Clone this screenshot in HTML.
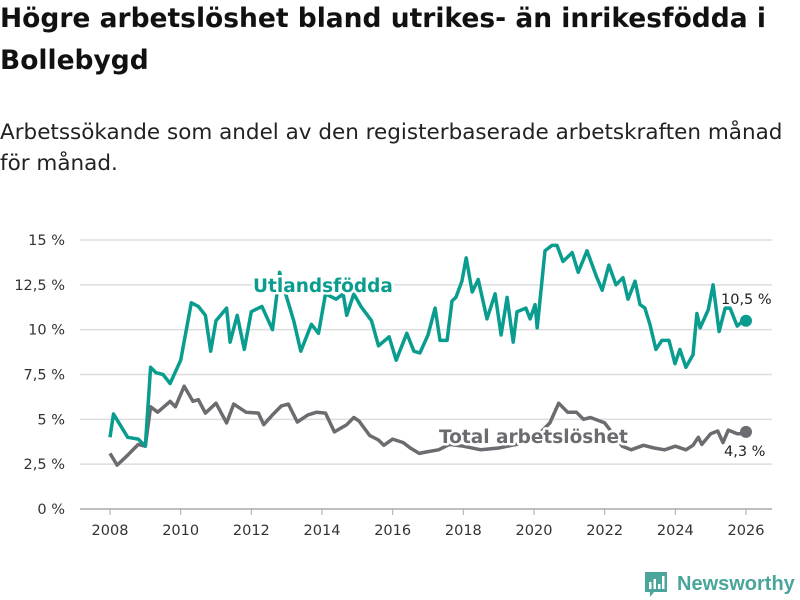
<!DOCTYPE html>
<html><head><meta charset="utf-8">
<style>
body{margin:0;background:#fff;font-family:"DejaVu Sans","Liberation Sans",sans-serif;}
#wrap{position:relative;width:800px;height:600px;overflow:hidden;}
h1{position:absolute;left:0;top:-2px;margin:0;font-size:26.5px;line-height:42px;font-weight:bold;color:#111;width:800px;white-space:nowrap;}
p.sub{position:absolute;left:0;top:117px;margin:0;font-size:21.5px;line-height:31px;color:#222;white-space:nowrap;}
</style></head><body>
<div id="wrap">
<h1>Högre arbetslöshet bland utrikes- än inrikesfödda i<br>Bollebygd</h1>
<p class="sub">Arbetssökande som andel av den registerbaserade arbetskraften månad<br>för månad.</p>
<svg id="chart" width="800" height="600" style="position:absolute;left:0;top:0"></svg>
</div>
<script>
const yTicks=[0,2.5,5,7.5,10,12.5,15];
const yTickLabels=["0 %","2,5 %","5 %","7,5 %","10 %","12,5 %","15 %"];
const xTicks=[2008,2010,2012,2014,2016,2018,2020,2022,2024,2026];
const foreignDates=[2008,2008.1,2008.5,2008.8,2009.0,2009.15,2009.3,2009.5,2009.7,2010.0,2010.3,2010.5,2010.7,2010.85,2011.0,2011.3,2011.4,2011.6,2011.8,2012.0,2012.3,2012.6,2012.8,2013.0,2013.2,2013.4,2013.7,2013.9,2014.1,2014.4,2014.6,2014.7,2014.9,2015.1,2015.4,2015.6,2015.9,2016.1,2016.4,2016.6,
2016.77,2017.0,2017.2,2017.34,2017.54,2017.68,2017.79,2017.96,2018.08,2018.25,2018.42,2018.67,2018.9,2019.07,2019.24,2019.41,2019.52,2019.77,2019.89,2020.03,2020.09,2020.31,2020.51,2020.65,2020.82,2021.08,2021.25,2021.5,2021.76,2021.93,2022.12,2022.32,2022.52,2022.66,2022.86,2023.0,2023.14,2023.28,2023.45,2023.62,2023.82,2023.99,2024.13,2024.3,2024.5,2024.61,2024.7,2024.93,2025.07,2025.24,2025.41,2025.55,2025.75,2025.92,2026.0];
const foreignValues=[4.0,5.3,4.0,3.9,3.5,7.9,7.6,7.5,7.0,8.3,11.5,11.3,10.8,8.8,10.5,11.2,9.3,10.8,8.9,11.0,11.3,10.0,13.2,11.8,10.5,8.8,10.3,9.8,12.0,11.7,12.0,10.8,12.0,11.3,10.5,9.1,9.6,8.3,9.8,8.8,
8.7,9.7,11.2,9.4,9.4,11.6,11.8,12.7,14.0,12.1,12.8,10.6,12.0,9.7,11.8,9.3,11.0,11.2,10.6,11.4,10.1,14.4,14.7,14.7,13.8,14.3,13.2,14.4,13.0,12.2,13.6,12.5,12.9,11.7,12.7,11.4,11.2,10.3,8.9,9.4,9.4,8.1,8.9,7.9,8.6,10.9,10.1,11.1,12.5,9.9,11.2,11.2,10.2,10.5,10.5];
const totalDates=[2008,2008.2,2008.5,2008.8,2009.0,2009.15,2009.35,2009.7,2009.85,2010.1,2010.35,2010.5,2010.7,2011.0,2011.3,2011.5,2011.85,2012.2,2012.35,2012.6,2012.85,2013.05,2013.3,2013.6,2013.85,2014.1,2014.35,2014.7,2014.9,2015.05,2015.35,2015.6,2015.75,2016.0,2016.3,2016.5,2016.75,2017.0,2017.3,2017.6,2018.0,2018.5,2019.0,2019.5,2020.0,2020.45,2020.7,2020.95,2021.2,2021.4,2021.6,2022.0,2022.5,2022.75,2023.1,2023.4,2023.7,2024.0,2024.3,2024.5,2024.65,2024.75,2025.0,2025.2,2025.35,2025.5,2025.75,2025.95,2026.0];
const totalValues=[3.1,2.45,3.0,3.6,3.5,5.7,5.4,6.0,5.7,6.85,6.0,6.1,5.35,5.9,4.8,5.85,5.4,5.35,4.7,5.25,5.75,5.85,4.85,5.25,5.4,5.35,4.3,4.7,5.1,4.9,4.1,3.85,3.55,3.9,3.7,3.4,3.1,3.2,3.3,3.6,3.5,3.3,3.4,3.6,3.9,4.8,5.9,5.4,5.4,5.0,5.1,4.8,3.5,3.3,3.55,3.4,3.3,3.5,3.3,3.55,4.0,3.6,4.2,4.35,3.7,4.4,4.2,4.2,4.3];

const svg=document.getElementById('chart');
const NS='http://www.w3.org/2000/svg';
const x0=110,x1=746,y0=509,y1=240;
function xs(d){return x0+(d-2008)/(2026-2008)*(x1-x0);}
function ys(v){return y0-v/15*(y0-y1);}
function mk(tag,attrs,parent){const e=document.createElementNS(NS,tag);for(const k in attrs)e.setAttribute(k,attrs[k]);(parent||svg).appendChild(e);return e;}

yTicks.forEach((t,i)=>{
  const g=mk('line',{x1:80,x2:772,y1:ys(t),y2:ys(t),stroke:i===0?'#aaa':'#ddd','stroke-width':1.5});
  
  
  const tx=mk('text',{x:65,y:ys(t)+5,'text-anchor':'end','font-size':14.5,fill:'#333'});
  tx.textContent=yTickLabels[i];
  
  
});
xTicks.forEach(t=>{
  const l=mk('line',{x1:xs(t),x2:xs(t),y1:509,y2:515,stroke:'#aaa','stroke-width':1});
  
  
  const tx=mk('text',{x:xs(t),y:535,'text-anchor':'middle','font-size':14.5,fill:'#333'});
  tx.textContent=t;
  
  
});
function line(dates,vals,color,name){
  const d=dates.map((t,i)=>(i?'L':'M')+xs(t).toFixed(1)+','+ys(vals[i]).toFixed(1)).join('');
  const p=mk('path',{d:d,fill:'none',stroke:color,'stroke-width':3.5,'stroke-linejoin':'round'});
  
  
  const n=dates.length-1;
  const c=mk('circle',{cx:xs(dates[n]),cy:ys(vals[n]),r:6,fill:color});
  
  
}
line(totalDates,totalValues,'#6d6b70','total-line');
line(foreignDates,foreignValues,'#0a9d8f','foreign-born-line');
function lab(txt,x,y,color,size,bold,name){
  const t=mk('text',{x:x,y:y,fill:color,'font-size':size,'font-weight':bold?'bold':'normal',stroke:'#fff','stroke-width':bold?5:4,'paint-order':'stroke','stroke-linejoin':'round'});
  t.textContent=txt;
  
  
}
lab('Utlandsfödda',253,292,'#0a9d8f',18.5,true,'foreign-born-label');
lab('Total arbetslöshet',439,443,'#6d6b70',18.5,true,'total-label');
lab('10,5 %',721,304,'#222',14.5,false,'foreign-end-value');
lab('4,3 %',724,456,'#222',14.5,false,'total-end-value');
const lg=mk('g',{});


mk('path',{d:'M645 572h22v20h-13l-4 5v-5h-5z',fill:'#4aa59a'},lg);
mk('rect',{x:649,y:582,width:2.5,height:7,fill:'#fff'},lg);
mk('rect',{x:653.5,y:579,width:2.5,height:10,fill:'#fff'},lg);
mk('rect',{x:658,y:584,width:2.5,height:5,fill:'#fff'},lg);
mk('rect',{x:662,y:576,width:2.5,height:13,fill:'#fff'},lg);
const lt=mk('text',{x:677,y:590,'font-size':20,fill:'#4aa59a','font-family':'Liberation Sans, sans-serif','font-weight':'bold'},lg);
lt.textContent='Newsworthy';
</script>
</body></html>
